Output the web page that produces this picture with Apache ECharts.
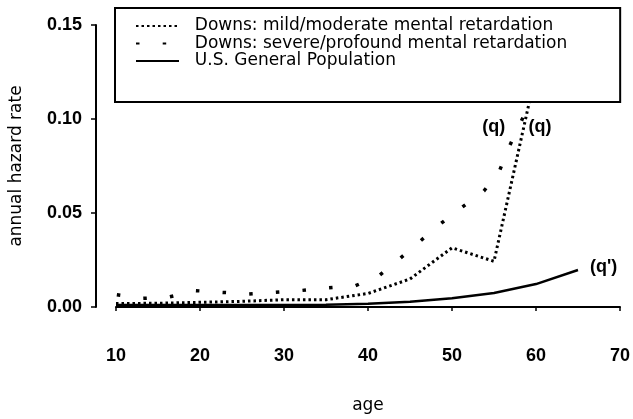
<!DOCTYPE html>
<html>
<head>
<meta charset="utf-8">
<title>annual hazard rate by age</title>
<script src="https://cdn.jsdelivr.net/npm/echarts@6/dist/echarts.min.js"></script>
<style>
  html, body { margin: 0; padding: 0; background: #fff; }
  #chart { width: 633px; height: 419px; }
</style>
</head>
<body>
<div id="chart"></div>
<script>
// 5-year age points
const ages = [10, 15, 20, 25, 30, 35, 40, 45, 50, 55, 60, 65]
// Downs: mild/moderate (ends at 60)
const mildModerate = [0.0018, 0.002, 0.0025, 0.003, 0.0039, 0.0039, 0.0072, 0.0149, 0.0315, 0.0243, 0.125]
// U.S. general population
const generalPop = [0.001, 0.001, 0.001, 0.0011, 0.0011, 0.0012, 0.0017, 0.0028, 0.0046, 0.0074, 0.0122, 0.0197]
// Downs: severe/profound
const severeAges = [10.1, 13.2, 16.3, 19.5, 22.6, 25.8, 29.0, 32.1, 35.3, 38.5, 41.4, 43.8, 46.2, 48.7, 51.3, 53.8, 55.7, 56.9, 58.3, 60]
const severeProfound = [0.0065, 0.0046, 0.0053, 0.0087, 0.0078, 0.0069, 0.0078, 0.0088, 0.0102, 0.0113, 0.0170, 0.0258, 0.0350, 0.0445, 0.0534, 0.0617, 0.0729, 0.0861, 0.0993, 0.117]

const seriesNames = [
  'Downs: mild/moderate mental retardation',
  'Downs: severe/profound mental retardation',
  'U.S. General Population'
]

const pair = (xs, ys) => ys.map((v, i) => [xs[i], v])

const tickFont = { fontFamily: 'Liberation Sans, Arial', fontSize: 18, fontWeight: 'bold', color: '#000' }
const noteLabel = {
  show: true,
  position: 'inside',
  formatter: p => p.name,
  fontFamily: 'Liberation Sans, Arial',
  fontSize: 18,
  fontWeight: 'bold',
  color: '#000'
}

const chart = echarts.init(document.getElementById('chart'), null, { renderer: 'canvas' })

const option = {
  animation: false,
  backgroundColor: '#fff',
  grid: { left: 116, right: 12, top: 25, bottom: 111 },
  legend: {
    orient: 'vertical',
    left: 115,
    top: 8,
    padding: [9.25, 53, 32.25, 20],
    itemWidth: 43,
    itemHeight: 10,
    itemGap: 0,
    backgroundColor: '#fff',
    borderColor: '#000',
    borderWidth: 2,
    itemStyle: { opacity: 0 },
    formatter: name => '  ' + name,
    textStyle: { fontFamily: 'DejaVu Sans', fontSize: 17, color: '#000', lineHeight: 17.5 },
    data: seriesNames
  },
  xAxis: {
    type: 'value',
    min: 10,
    max: 70,
    interval: 10,
    offset: 13,
    name: 'age',
    nameLocation: 'middle',
    nameGap: 77,
    nameTextStyle: { fontFamily: 'DejaVu Sans', fontSize: 17, color: '#000' },
    axisLine: { lineStyle: { color: '#000', width: 2 } },
    axisTick: { length: 4, lineStyle: { color: '#000', width: 1.5 } },
    axisLabel: Object.assign({ margin: 27 }, tickFont),
    splitLine: { show: false }
  },
  yAxis: {
    type: 'value',
    min: 0,
    max: 0.15,
    interval: 0.05,
    offset: 20,
    name: 'annual hazard rate',
    nameLocation: 'middle',
    nameGap: 71,
    nameTextStyle: { fontFamily: 'DejaVu Sans', fontSize: 17, color: '#000' },
    axisLine: { show: true, lineStyle: { color: '#000', width: 2 } },
    axisTick: { show: true, length: 5, lineStyle: { color: '#000', width: 1.5 } },
    axisLabel: Object.assign({ margin: 14, formatter: v => v.toFixed(2) }, tickFont),
    splitLine: { show: false }
  },
  series: [
    {
      name: seriesNames[0],
      type: 'line',
      symbol: 'none',
      data: pair(ages, mildModerate),
      itemStyle: { color: '#000' },
      lineStyle: { color: '#000', width: 3, type: [2.5, 3] },
      markPoint: {
        symbol: 'circle',
        symbolSize: 0,
        label: noteLabel,
        data: [
          { name: '(q)', coord: [54.97, 0.0958] },
          { name: '(q)', coord: [60.49, 0.0958] }
        ]
      }
    },
    {
      name: seriesNames[1],
      type: 'line',
      symbol: 'none',
      data: pair(severeAges, severeProfound),
      itemStyle: { color: '#000' },
      lineStyle: { color: '#000', width: 3.5, type: [3.5, 23.2] }
    },
    {
      name: seriesNames[2],
      type: 'line',
      symbol: 'none',
      data: pair(ages, generalPop),
      itemStyle: { color: '#000' },
      lineStyle: { color: '#000', width: 2.5 },
      markPoint: {
        symbol: 'circle',
        symbolSize: 0,
        label: noteLabel,
        data: [
          { name: "(q')", coord: [68.04, 0.0215] }
        ]
      }
    }
  ]
}

chart.setOption(option)
</script>
</body>
</html>
